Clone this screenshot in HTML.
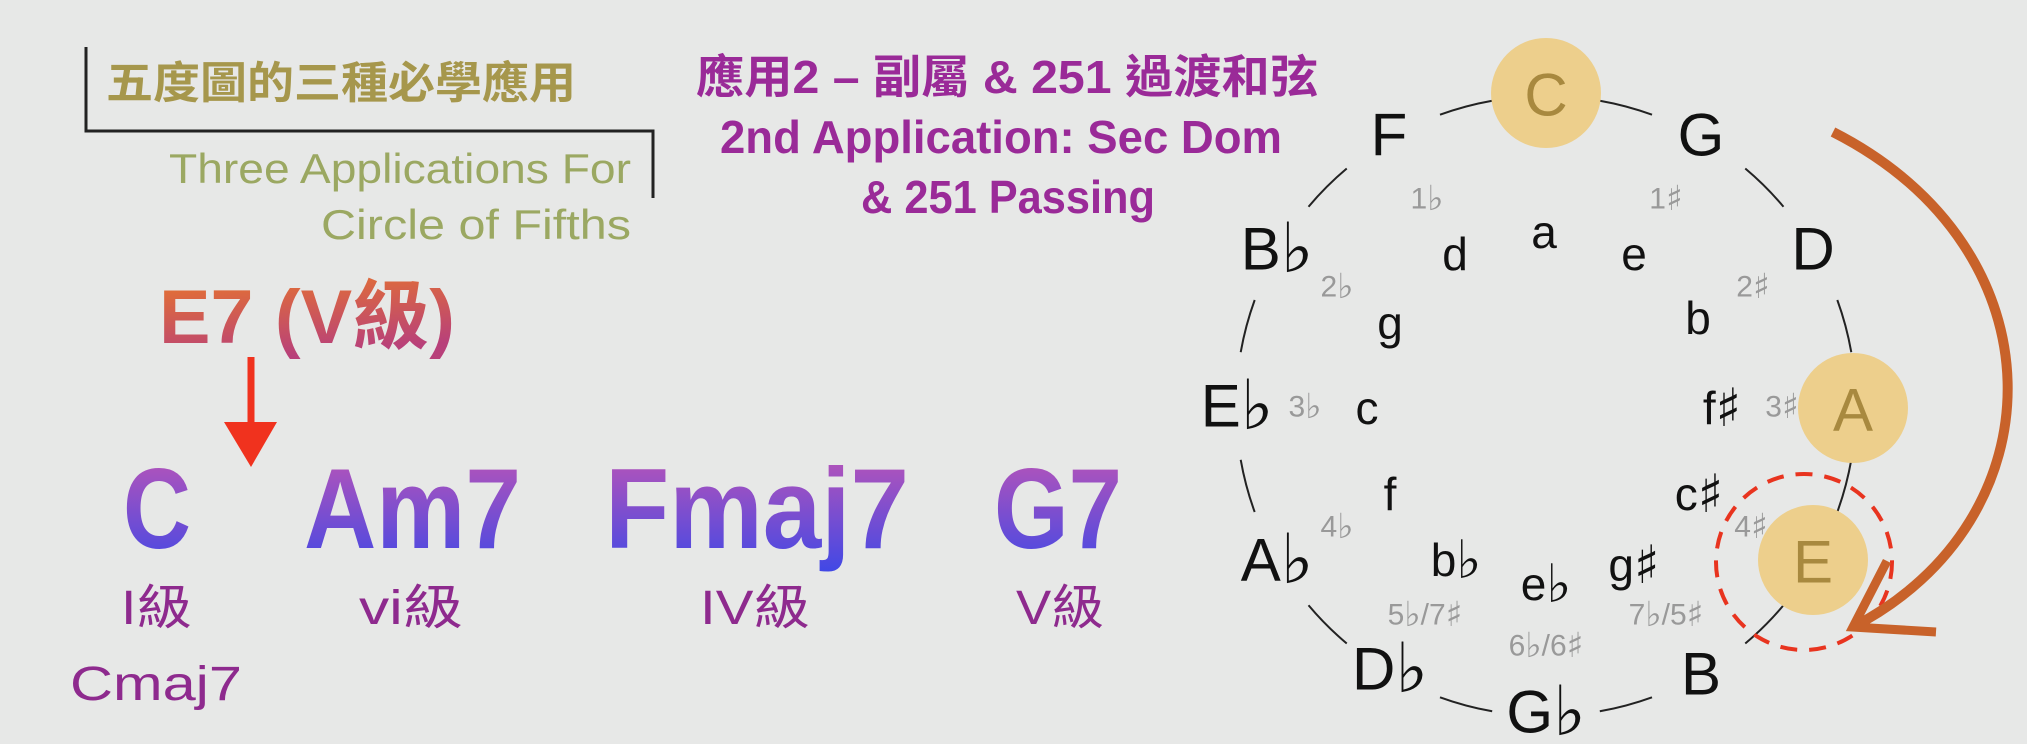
<!DOCTYPE html>
<html><head><meta charset="utf-8"><style>
html,body{margin:0;padding:0;background:#e7e8e7;}
svg{display:block;}
.cj{font-family:"Liberation Sans","Noto Sans CJK TC",sans-serif;}
.maj{font-family:"Liberation Sans","DejaVu Sans",sans-serif;font-size:60px;fill:#111;}
.min{font-family:"Liberation Sans","DejaVu Sans",sans-serif;font-size:46px;fill:#111;}
.ks{font-family:"Liberation Sans","DejaVu Sans",sans-serif;font-size:30px;fill:#999;}
.f{font-family:"DejaVu Sans",sans-serif;font-size:1.15em;}
</style></head><body>
<svg width="2027" height="744" viewBox="0 0 2027 744" xmlns="http://www.w3.org/2000/svg">
<defs>
<linearGradient id="gE" x1="0" y1="0" x2="0.3" y2="1"><stop offset="0" stop-color="#e8762c"/><stop offset="1" stop-color="#b8407a"/></linearGradient>
<linearGradient id="gC" x1="0" y1="0" x2="0" y2="1"><stop offset="0" stop-color="#c055b5"/><stop offset="1" stop-color="#3f48e6"/></linearGradient>
</defs>
<rect width="2027" height="744" fill="#e7e8e7"/>
<polyline points="86,47 86,131 653,131 653,198" fill="none" stroke="#222" stroke-width="3"/>
<text class="cj" x="106" y="98" font-size="44" font-weight="bold" fill="#a6974c" textLength="470" lengthAdjust="spacingAndGlyphs">五度圖的三種必學應用</text>
<text class="cj" x="631" y="183" font-size="42" fill="#9ba862" text-anchor="end" textLength="462" lengthAdjust="spacingAndGlyphs">Three Applications For</text>
<text class="cj" x="631" y="239" font-size="42" fill="#9ba862" text-anchor="end" textLength="310" lengthAdjust="spacingAndGlyphs">Circle of Fifths</text>
<text class="cj" x="696" y="93" font-size="46" font-weight="bold" fill="#9a2a98" textLength="622" lengthAdjust="spacingAndGlyphs">應用2 – 副屬 &amp; 251 過渡和弦</text>
<text class="cj" x="720" y="153" font-size="46" font-weight="bold" fill="#9a2a98" textLength="562" lengthAdjust="spacingAndGlyphs">2nd Application: Sec Dom</text>
<text class="cj" x="861" y="213" font-size="46" font-weight="bold" fill="#9a2a98" textLength="294" lengthAdjust="spacingAndGlyphs">&amp; 251 Passing</text>
<text class="cj" x="159" y="343" font-size="76" font-weight="bold" fill="url(#gE)" textLength="296" lengthAdjust="spacingAndGlyphs">E7 (V級)</text>
<line x1="251" y1="357" x2="251" y2="428" stroke="#f0321e" stroke-width="7"/>
<polygon points="224,422 277,422 251,467" fill="#f0321e"/>
<g class="cj" font-size="114" font-weight="bold" fill="url(#gC)">
<text x="123" y="548" textLength="68" lengthAdjust="spacingAndGlyphs">C</text>
<text x="304" y="548" textLength="217" lengthAdjust="spacingAndGlyphs">Am7</text>
<text x="605" y="548" textLength="304" lengthAdjust="spacingAndGlyphs">Fmaj7</text>
<text x="994" y="548" textLength="128" lengthAdjust="spacingAndGlyphs">G7</text>
</g>
<g class="cj" font-size="48" fill="#8e2a8e">
<text x="121" y="624" textLength="71" lengthAdjust="spacingAndGlyphs">I級</text>
<text x="359" y="624" textLength="104" lengthAdjust="spacingAndGlyphs">vi級</text>
<text x="700" y="624" textLength="110" lengthAdjust="spacingAndGlyphs">IV級</text>
<text x="1016" y="624" textLength="88" lengthAdjust="spacingAndGlyphs">V級</text>
<text x="70" y="700" textLength="172" lengthAdjust="spacingAndGlyphs">Cmaj7</text>
</g>
<circle cx="1546" cy="406" r="310" fill="none" stroke="#222" stroke-width="2" stroke-dasharray="54.1 108.2" stroke-dashoffset="-54.1"/>
<circle cx="1546" cy="93" r="55" fill="#edcf8c"/>
<circle cx="1853" cy="408" r="55" fill="#edcf8c"/>
<circle cx="1813" cy="560" r="55" fill="#edcf8c"/>
<circle cx="1804" cy="562" r="88" fill="none" stroke="#e8341f" stroke-width="4" stroke-dasharray="17 12"/>
<path d="M1833,132 C2065,250 2060,520 1853,627" fill="none" stroke="#c8622a" stroke-width="10"/>
<path d="M1936,632 L1853,627 L1887,561" fill="none" stroke="#c8622a" stroke-width="9"/>
<g class="maj" text-anchor="middle" dominant-baseline="central">
<text x="1546" y="95" fill="#a8893f">C</text>
<text x="1701" y="135">G</text>
<text x="1813" y="249">D</text>
<text x="1853" y="410" fill="#a8893f">A</text>
<text x="1813" y="562" fill="#a8893f">E</text>
<text x="1701" y="674">B</text>
<text x="1546" y="712">G<tspan class="f">♭</tspan></text>
<text x="1390" y="669">D<tspan class="f">♭</tspan></text>
<text x="1277" y="560">A<tspan class="f">♭</tspan></text>
<text x="1237" y="406">E<tspan class="f">♭</tspan></text>
<text x="1277" y="249">B<tspan class="f">♭</tspan></text>
<text x="1389" y="135">F</text>
</g>
<g class="min" text-anchor="middle" dominant-baseline="central">
<text x="1544" y="232">a</text>
<text x="1634" y="254">e</text>
<text x="1698" y="318">b</text>
<text x="1722" y="408">f<tspan class="f">♯</tspan></text>
<text x="1699" y="494">c<tspan class="f">♯</tspan></text>
<text x="1634" y="565">g<tspan class="f">♯</tspan></text>
<text x="1546" y="584">e<tspan class="f">♭</tspan></text>
<text x="1456" y="560">b<tspan class="f">♭</tspan></text>
<text x="1390" y="494">f</text>
<text x="1367" y="408">c</text>
<text x="1390" y="323">g</text>
<text x="1455" y="254">d</text>
</g>
<g class="ks" text-anchor="middle" dominant-baseline="central">
<text x="1427" y="199">1<tspan class="f">♭</tspan></text>
<text x="1666" y="199">1<tspan class="f">♯</tspan></text>
<text x="1337" y="287">2<tspan class="f">♭</tspan></text>
<text x="1753" y="287">2<tspan class="f">♯</tspan></text>
<text x="1305" y="407">3<tspan class="f">♭</tspan></text>
<text x="1782" y="407">3<tspan class="f">♯</tspan></text>
<text x="1337" y="527">4<tspan class="f">♭</tspan></text>
<text x="1751" y="527">4<tspan class="f">♯</tspan></text>
<text x="1425" y="615">5<tspan class="f">♭</tspan>/7<tspan class="f">♯</tspan></text>
<text x="1666" y="615">7<tspan class="f">♭</tspan>/5<tspan class="f">♯</tspan></text>
<text x="1546" y="646">6<tspan class="f">♭</tspan>/6<tspan class="f">♯</tspan></text>
</g>
</svg>
</body></html>
